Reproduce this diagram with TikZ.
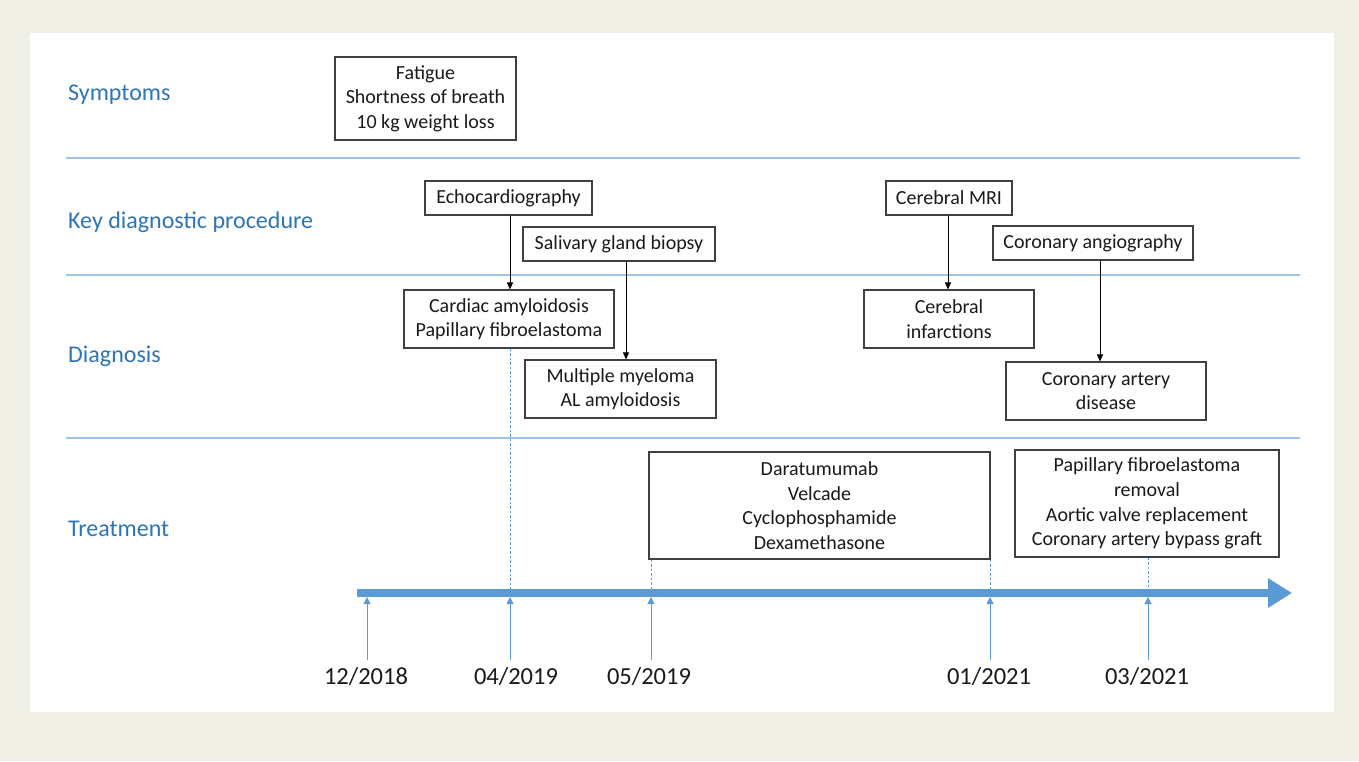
\documentclass[tikz,border=0pt]{standalone}
\usepackage{fontspec}
\setmainfont{Carlito}
\usetikzlibrary{arrows.meta,calc}
\definecolor{bgbeige}{HTML}{EFEFE6}
\definecolor{lblue}{HTML}{9DC3E6}
\definecolor{tblue}{HTML}{2E75B6}
\definecolor{abl}{HTML}{5B9BD5}
\definecolor{boxline}{HTML}{404040}
\definecolor{txt}{HTML}{1A1A1A}
\tikzset{
  box/.style={draw=boxline, line width=1.1pt, fill=white, align=center, inner sep=0pt,
    text=txt, font=\fontsize{20}{24.6}\selectfont},
  rowlabel/.style={anchor=west, text=tblue, inner sep=0pt, font=\fontsize{24}{28}\selectfont},
  sepline/.style={draw=lblue, line width=1.2pt},
  link/.style={draw=black, line width=0.9pt, -{Triangle[length=7pt,width=6pt]}},
  dashv/.style={draw=abl, line width=0.8pt, dash pattern=on 2.5pt off 2pt},
  tick/.style={draw=abl, line width=1pt, -{Triangle[length=7pt,width=7pt]}},
  datelbl/.style={text=txt, inner sep=0pt, font=\fontsize{24.5}{28}\selectfont},
}
\begin{document}
\begin{tikzpicture}[x=1pt,y=-1pt]
\useasboundingbox (0,0) rectangle (1359,761);
\fill[bgbeige] (0,0) rectangle (1359,761);
\fill[white] (30,33) rectangle (1334,712);
% separators
\coordinate (s1a) at (66,158); \coordinate (s1b) at (1300,158);
\coordinate (s2a) at (66,275); \coordinate (s2b) at (1300,275);
\coordinate (s3a) at (66,438); \coordinate (s3b) at (1300,438);
\draw[sepline] (s1a) -- (s1b);
\draw[sepline] (s2a) -- (s2b);
\draw[sepline] (s3a) -- (s3b);
% row labels
\node[rowlabel] (lsym) at (68,95) {Symptoms};
\node[rowlabel] (lkey) at (68,222) {Key diagnostic procedure};
\node[rowlabel] (ldia) at (68,356) {Diagnosis};
\node[rowlabel] (ltre) at (68,529) {Treatment};
% boxes
\node[box, minimum width=181pt, minimum height=83pt] (sym) at (425.5,98.5) {Fatigue\\Shortness of breath\\10 kg weight loss};
\node[box, minimum width=167pt, minimum height=34pt] (echo) at (508.5,198) {Echocardiography};
\node[box, minimum width=192pt, minimum height=34pt] (sal) at (619,244) {Salivary gland biopsy};
\node[box, minimum width=210pt, minimum height=58pt] (card) at (509,319) {Cardiac amyloidosis\\Papillary fibroelastoma};
\node[box, minimum width=191pt, minimum height=58pt] (mm) at (620.5,389) {Multiple myeloma\\AL amyloidosis};
\node[box, minimum width=126pt, minimum height=34pt] (mri) at (949,198) {Cerebral MRI};
\node[box, minimum width=200pt, minimum height=34pt] (cang) at (1093,243) {Coronary angiography};
\node[box, minimum width=170pt, minimum height=58pt] (inf) at (949,319) {Cerebral\\infarctions};
\node[box, minimum width=200pt, minimum height=58pt] (cad) at (1106,391) {Coronary artery\\disease};
\node[box, minimum width=341pt, minimum height=107pt] (dara) at (819.5,505.5) {Daratumumab\\Velcade\\Cyclophosphamide\\Dexamethasone};
\node[box, minimum width=264pt, minimum height=107pt] (surg) at (1147,503.5) {Papillary fibroelastoma\\removal\\Aortic valve replacement\\Coronary artery bypass graft};
% links
\draw[link] ([xshift=1.5pt]echo.south) -- ([xshift=1.5pt]echo.south |- card.north);
\draw[link] ([xshift=7pt]sal.south) -- ([xshift=7pt]sal.south |- mm.north);
\draw[link] ([xshift=-1pt]mri.south) -- ([xshift=-1pt]mri.south |- inf.north);
\draw[link] ([xshift=7pt]cang.south) -- ([xshift=7pt]cang.south |- cad.north);
% timeline
\coordinate (tla) at (357,593);
\coordinate (tlb) at (1292,593);
\draw[draw=abl, line width=8pt, -{Triangle[length=24pt,width=28pt]}] (tla) -- (tlb);
% dashed guides
\coordinate (g1) at (510,590);
\coordinate (g2) at (651,590);
\coordinate (g3) at (990,590);
\coordinate (g4) at (1148,590);
\draw[dashv] (card.south -| g1) -- (g1);
\draw[dashv] (dara.south -| g2) -- (g2);
\draw[dashv] (dara.south -| g3) -- (g3);
\draw[dashv] (surg.south -| g4) -- (g4);
% ticks
\foreach \n/\x in {1/367,2/510,3/651,4/990,5/1148}{
  \coordinate (b\n) at (\x,660);
  \coordinate (t\n) at (\x,597);
}
\foreach \n in {1,...,5}{ \draw[tick] (b\n) -- (t\n); }
% dates
\node[datelbl] (d1) at (366,677) {12/2018};
\node[datelbl] (d2) at (516,677) {04/2019};
\node[datelbl] (d3) at (649,677) {05/2019};
\node[datelbl] (d4) at (989,677) {01/2021};
\node[datelbl] (d5) at (1147,677) {03/2021};
\end{tikzpicture}
\end{document}
